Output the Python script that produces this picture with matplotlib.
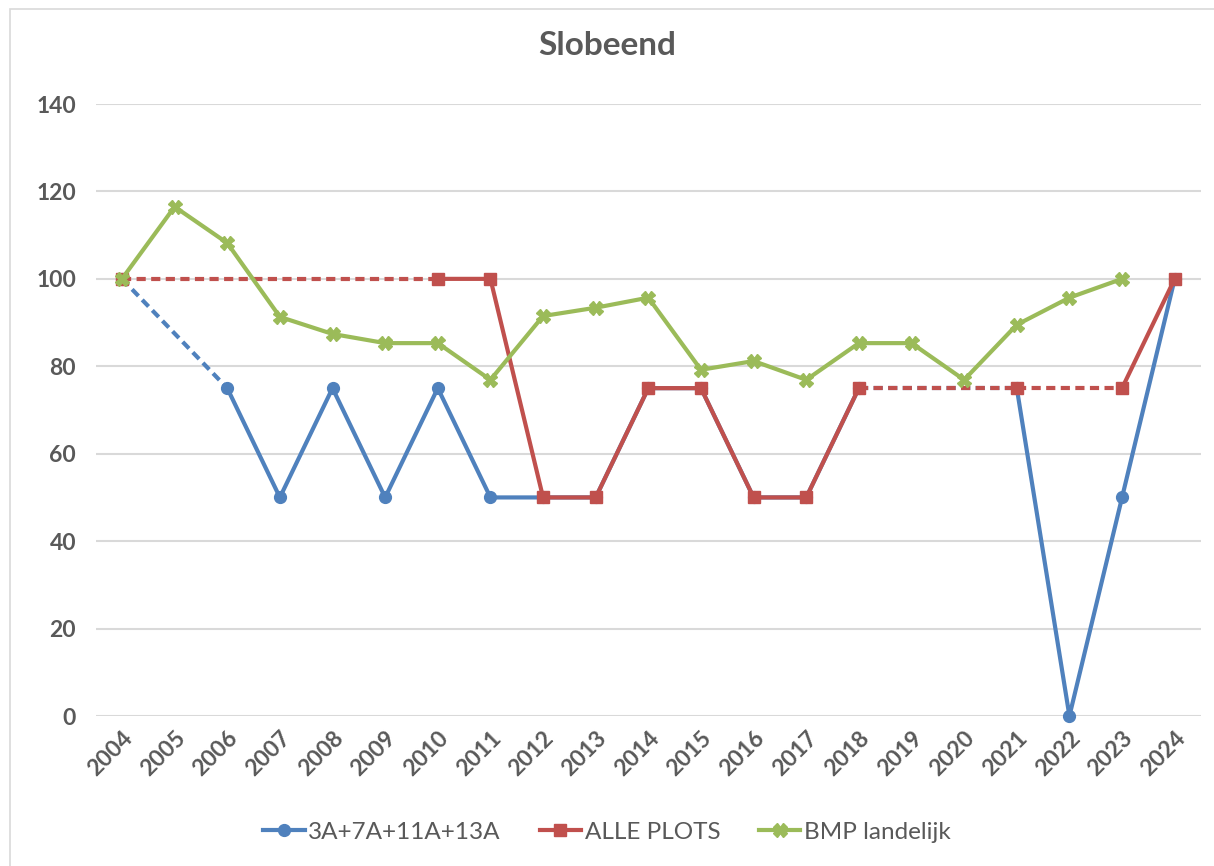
import numpy as np
import matplotlib.pyplot as plt
from matplotlib.patches import Rectangle

plt.rcParams['font.family'] = ['Lato', 'DejaVu Sans']

years = [str(y) for y in range(2004, 2025)]
nan = np.nan

# 3A+7A+11A+13A
plots_3a = [100, nan, 75, 50, 75, 50, 75, 50, 50, 50, 75, 75, 50, 50, 75,
            nan, nan, 75, 0, 50, 100]
# ALLE PLOTS
alle_plots = [100, nan, nan, nan, nan, nan, 100, 100, 50, 50, 75, 75, 50, 50, 75,
              nan, nan, 75, nan, 75, 100]
# BMP landelijk
bmp = [100, 116.5, 108.2, 91.3, 87.4, 85.3, 85.3, 76.9, 91.5, 93.4, 95.7, 79.2,
       81.2, 76.9, 85.3, 85.3, 76.9, 89.5, 95.7, 100, nan]

series = [
    ("3A+7A+11A+13A", plots_3a, "#4F81BD", "o", 8.5),
    ("ALLE PLOTS", alle_plots, "#C0504D", "s", 8.5),
    ("BMP landelijk", bmp, "#9BBB59", "X", 10),
]

fig = plt.figure(figsize=(12.14, 8.66), dpi=100)
ax = fig.add_axes([0.0788, 0.1732, 0.9105, 0.7067])

x = np.arange(len(years))
for name, vals, col, mk, ms in series:
    v = np.array(vals, dtype=float)
    # dashed connectors across missing years
    idx = np.where(~np.isnan(v))[0]
    for a, b in zip(idx[:-1], idx[1:]):
        if b - a > 1:
            ax.plot([x[a], x[b]], [v[a], v[b]], color=col, lw=3, ls=(0, (2.2, 1.3)),
                    zorder=2, clip_on=False)
    ax.plot(x, v, color=col, lw=3, marker=mk, ms=ms, mec=col, mfc=col,
            label=name, zorder=3, clip_on=False)

ax.set_xlim(-0.5, len(years) - 0.5)
ax.set_ylim(0, 140)
ax.set_yticks(range(0, 141, 20))
ax.set_xticks(x)
ax.set_xticklabels(years, rotation=45, ha='right', rotation_mode='anchor')
ax.yaxis.grid(True, color='#D9D9D9', lw=1.5)
ax.set_axisbelow(True)
for s in ax.spines.values():
    s.set_visible(False)
ax.tick_params(length=0, labelsize=16.5, labelcolor='#595959', pad=14)
ax.tick_params(axis='x', pad=8)
for lab in ax.get_xticklabels() + ax.get_yticklabels():
    lab.set_fontweight('bold')

fig.text(0.5, 0.947, "Slobeend", ha='center', va='center', fontsize=24,
         fontweight='bold', color='#595959')

leg = fig.legend(loc='center', bbox_to_anchor=(0.5, 0.039), ncol=3, frameon=False,
                 fontsize=17.5, handlelength=1.7, columnspacing=1.6, handletextpad=0.15)
for t in leg.get_texts():
    t.set_color('#595959')

fig.patches.append(Rectangle((0.008, -0.01), 1.0, 1.0, transform=fig.transFigure,
                             fill=False, ec='#D9D9D9', lw=1.2))

fig.savefig("out.png", dpi=100)
